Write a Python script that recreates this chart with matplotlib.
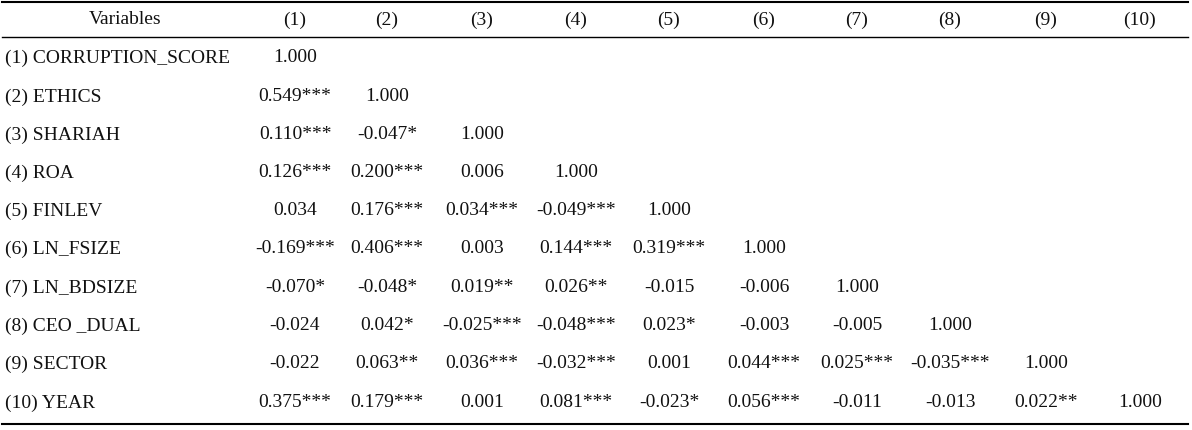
import matplotlib.pyplot as plt

variables = ["(1) CORRUPTION_SCORE", "(2) ETHICS", "(3) SHARIAH", "(4) ROA", "(5) FINLEV",
             "(6) LN_FSIZE", "(7) LN_BDSIZE", "(8) CEO _DUAL", "(9) SECTOR", "(10) YEAR"]
headers = ["(1)", "(2)", "(3)", "(4)", "(5)", "(6)", "(7)", "(8)", "(9)", "(10)"]
values = [
    ["1.000"],
    ["0.549***", "1.000"],
    ["0.110***", "-0.047*", "1.000"],
    ["0.126***", "0.200***", "0.006", "1.000"],
    ["0.034", "0.176***", "0.034***", "-0.049***", "1.000"],
    ["-0.169***", "0.406***", "0.003", "0.144***", "0.319***", "1.000"],
    ["-0.070*", "-0.048*", "0.019**", "0.026**", "-0.015", "-0.006", "1.000"],
    ["-0.024", "0.042*", "-0.025***", "-0.048***", "0.023*", "-0.003", "-0.005", "1.000"],
    ["-0.022", "0.063**", "0.036***", "-0.032***", "0.001", "0.044***", "0.025***", "-0.035***", "1.000"],
    ["0.375***", "0.179***", "0.001", "0.081***", "-0.023*", "0.056***", "-0.011", "-0.013", "0.022**", "1.000"],
]

W, H = 1192, 431
fig = plt.figure(figsize=(W/100, H/100), dpi=100)
ax = fig.add_axes([0, 0, 1, 1])
ax.set_xlim(0, W); ax.set_ylim(H, 0); ax.axis("off")
font = dict(family="Liberation Serif", fontsize=14, color="#111111")

col_x = [295, 387, 482, 576, 669, 764, 857, 950, 1046, 1140]
row_y = [58, 97, 135, 173, 211, 249, 288, 326, 364, 403]
header_y = 20

for y, lw in [(3, 1.5), (38, 1.0), (425, 1.5)]:
    ax.plot([2, 1188], [y, y], color="black", lw=lw)

ax.text(125, header_y, "Variables", ha="center", va="center", **font)
for x, h in zip(col_x, headers):
    ax.text(x, header_y, h, ha="center", va="center", **font)
for y, name, row in zip(row_y, variables, values):
    ax.text(5, y, name, ha="left", va="center", **font)
    for x, v in zip(col_x, row):
        ax.text(x, y, v, ha="center", va="center", **font)

fig.savefig("out.png", dpi=100)
